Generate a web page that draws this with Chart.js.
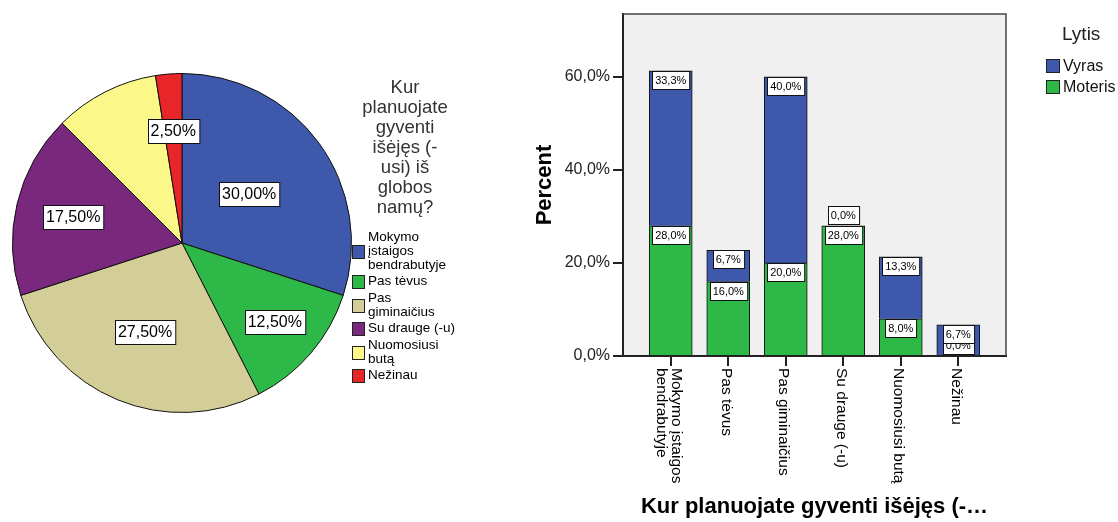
<!DOCTYPE html>
<html>
<head>
<meta charset="utf-8">
<script src="https://cdn.jsdelivr.net/npm/chart.js@4/dist/chart.umd.min.js"></script>
<style>
body { margin: 0; background: #fff; width: 1118px; height: 522px; overflow: hidden; }
#pie { position: absolute; left: 0; top: 0; }
#bar { position: absolute; left: 530px; top: 0; }
</style>
</head>
<body>
<canvas id="pie" width="530" height="522"></canvas>
<canvas id="bar" width="588" height="522"></canvas>
<script>
// --- pie: Kur planuojate gyventi ---
var pieLabels = ['Mokymo įstaigos bendrabutyje', 'Pas tėvus', 'Pas giminaičius', 'Su drauge (-u)', 'Nuomosiusi butą', 'Nežinau'];
var pieValues = [30.0, 12.5, 27.5, 17.5, 10.0, 2.5];
var pieColors = ['#3e58ac', '#2eb848', '#d3ce97', '#7a287e', '#fbf788', '#e8262a'];
var pieTitleLines = ['Kur', 'planuojate', 'gyventi', 'išėjęs (-', 'usi) iš', 'globos', 'namų?'];
var pieLegendLines = [['Mokymo', 'įstaigos', 'bendrabutyje'], ['Pas tėvus'], ['Pas', 'giminaičius'], ['Su drauge (-u)'], ['Nuomosiusi', 'butą'], ['Nežinau']];
var pieLabelRadius = [0.49, 0.72, 0.57, 0.66, null, 0.66]; // geltonas be etiketės

// --- stulpeliai: pagal lytį ---
var barCategories = ['Mokymo įstaigos bendrabutyje', 'Pas tėvus', 'Pas giminaičius', 'Su drauge (-u)', 'Nuomosiusi butą', 'Nežinau'];
var barTickLines = [['Mokymo įstaigos', 'bendrabutyje'], ['Pas tėvus'], ['Pas giminaičius'], ['Su drauge (-u)'], ['Nuomosiusi butą'], ['Nežinau']];
var moteris = [28.0, 16.0, 20.0, 28.0, 8.0, 0.0];
var vyras = [33.3, 6.7, 40.0, 0.0, 13.3, 6.7];
var yTicks = [0, 20, 40, 60];
var seriesNames = ['Vyras', 'Moteris'];

var FONT = "'Liberation Sans', Arial, sans-serif";
Chart.defaults.font.family = FONT;

function comma(v, d) {
    return v.toFixed(d).replace('.', ',') + '%';
}

function labelBox(ctx, text, cx, top, h, size) {
    ctx.font = size + 'px ' + FONT;
    var w = ctx.measureText(text).width + 6;
    var x = Math.round(cx - w / 2) + 0.5;
    var y = Math.round(top) + 0.5;
    ctx.fillStyle = '#fff';
    ctx.fillRect(x, y, w, h);
    ctx.strokeStyle = '#111';
    ctx.lineWidth = 1;
    ctx.strokeRect(x, y, w, h);
    ctx.fillStyle = '#000';
    ctx.textAlign = 'center';
    ctx.textBaseline = 'middle';
    ctx.fillText(text, cx, y + h / 2 + 0.5);
}

// pyrago etiketės ir legenda
var pieExtras = {
    id: 'pieExtras',
    afterDraw: function (chart) {
        var ctx = chart.ctx;
        var meta = chart.getDatasetMeta(0);
        ctx.save();
        meta.data.forEach(function (arc, i) {
            if (pieLabelRadius[i] === null) return;
            var mid = (arc.startAngle + arc.endAngle) / 2;
            var r = arc.outerRadius * pieLabelRadius[i];
            var x = arc.x + Math.cos(mid) * r;
            var y = arc.y + Math.sin(mid) * r;
            labelBox(ctx, comma(pieValues[i], 2), x, y - 12, 24, 16);
        });

        // pavadinimas
        ctx.fillStyle = '#333';
        ctx.font = '18.5px ' + FONT;
        ctx.textAlign = 'center';
        ctx.textBaseline = 'middle';
        pieTitleLines.forEach(function (t, k) {
            ctx.fillText(t, 405, 88 + k * 20);
        });

        // legendos punktai
        var y = 237;
        ctx.font = '13.5px ' + FONT;
        ctx.textAlign = 'left';
        pieLegendLines.forEach(function (lines, i) {
            var first = y;
            lines.forEach(function (t) {
                ctx.fillStyle = '#000';
                ctx.fillText(t, 368, y);
                y += 14;
            });
            var c = (first + y - 14) / 2;
            ctx.fillStyle = pieColors[i];
            ctx.fillRect(352.5, Math.round(c - 6.5) + 0.5, 12, 13);
            ctx.strokeStyle = '#222';
            ctx.lineWidth = 1;
            ctx.strokeRect(352.5, Math.round(c - 6.5) + 0.5, 12, 13);
            y += 2.5;
        });
        ctx.restore();
    }
};

new Chart(document.getElementById('pie'), {
    type: 'pie',
    data: {
        labels: pieLabels,
        datasets: [{
            data: pieValues,
            backgroundColor: pieColors,
            borderColor: '#111',
            borderWidth: 1,
            hoverOffset: 0
        }]
    },
    options: {
        responsive: false,
        animation: false,
        layout: { padding: { left: 12, top: 73, right: 178, bottom: 109 } },
        plugins: { legend: { display: false }, tooltip: { enabled: false } }
    },
    plugins: [pieExtras]
});

// stulpelių fonas, rėmas, etiketės
var barExtras = {
    id: 'barExtras',
    beforeDraw: function (chart) {
        var a = chart.chartArea, ctx = chart.ctx;
        ctx.save();
        ctx.fillStyle = '#f0f0f0';
        ctx.fillRect(a.left, a.top, a.right - a.left, a.bottom - a.top);
        ctx.restore();
    },
    beforeDatasetsDraw: function (chart) {
        var a = chart.chartArea, ctx = chart.ctx;
        ctx.save();
        ctx.strokeStyle = '#444';
        ctx.lineWidth = 1.5;
        ctx.beginPath();
        ctx.moveTo(a.left, a.top);
        ctx.lineTo(a.right, a.top);
        ctx.lineTo(a.right, a.bottom);
        ctx.stroke();
        ctx.restore();
    },
    afterDatasetsDraw: function (chart) {
        var ctx = chart.ctx;
        ctx.save();
        [0, 1].forEach(function (d) {
            var vals = d === 0 ? moteris : vyras;
            chart.getDatasetMeta(d).data.forEach(function (el, i) {
                var top = Math.min(el.y, el.base);
                var h = Math.abs(el.base - el.y);
                var boxTop = h < 1 ? top - 20 : top;
                labelBox(ctx, comma(vals[i], 1), el.x, boxTop, 18, 11);
            });
        });
        ctx.restore();
    },
    afterDraw: function (chart) {
        var ctx = chart.ctx;
        var xs = chart.scales.x;
        ctx.save();
        ctx.fillStyle = '#000';
        ctx.font = '15.5px ' + FONT;
        ctx.textAlign = 'left';
        ctx.textBaseline = 'middle';
        barTickLines.forEach(function (lines, i) {
            var x = xs.getPixelForValue(i) - 2;
            ctx.save();
            ctx.translate(x, 368);
            ctx.rotate(Math.PI / 2);
            lines.forEach(function (t, j) {
                ctx.fillText(t, 0, (j - (lines.length - 1) / 2) * 15);
            });
            ctx.restore();
        });

        // legenda "Lytis"
        ctx.fillStyle = '#222';
        ctx.font = '19px ' + FONT;
        ctx.textAlign = 'left';
        ctx.fillText('Lytis', 532, 35);
        var cols = ['#3e58ac', '#2eb848'];
        ctx.font = '16px ' + FONT;
        seriesNames.forEach(function (n, k) {
            var cy = 66 + k * 21;
            ctx.fillStyle = cols[k];
            ctx.fillRect(516.5, cy - 6.5, 13, 13);
            ctx.strokeStyle = '#222';
            ctx.lineWidth = 1;
            ctx.strokeRect(516.5, cy - 6.5, 13, 13);
            ctx.fillStyle = '#111';
            ctx.fillText(n, 533, cy + 1);
        });
        ctx.restore();
    }
};

new Chart(document.getElementById('bar'), {
    type: 'bar',
    data: {
        datasets: [{
            label: 'Moteris',
            data: moteris.map(function (v, i) { return { x: i, y: v }; }),
            backgroundColor: '#2eb848',
            borderColor: '#111',
            borderWidth: 1,
            barThickness: 43,
            stack: 's'
        }, {
            label: 'Vyras',
            data: vyras.map(function (v, i) { return { x: i, y: v }; }),
            backgroundColor: '#3e58ac',
            borderColor: '#111',
            borderWidth: 1,
            barThickness: 43,
            stack: 's'
        }]
    },
    options: {
        responsive: false,
        animation: false,
        layout: { padding: { left: 0, top: 14, right: 112, bottom: 0 } },
        plugins: { legend: { display: false }, tooltip: { enabled: false } },
        scales: {
            x: {
                type: 'linear',
                stacked: true,
                offset: false,
                min: -0.83,
                max: 5.83,
                afterBuildTicks: function (s) { s.ticks = barCategories.map(function (c, i) { return { value: i }; }); },
                afterFit: function (s) { s.height = 166; },
                ticks: { display: false },
                grid: { offset: false, drawOnChartArea: false, tickLength: 10, color: '#222', lineWidth: 2 },
                border: { display: true, color: '#222', width: 2 },
                title: {
                    display: true,
                    text: 'Kur planuojate gyventi išėjęs (-…',
                    color: '#000',
                    font: { size: 22, weight: 'bold', lineHeight: 1.36 },
                    padding: 0
                }
            },
            y: {
                stacked: true,
                min: 0,
                max: 73.5,
                afterBuildTicks: function (s) { s.ticks = yTicks.map(function (v) { return { value: v }; }); },
                afterFit: function (s) { s.width = 93; },
                ticks: {
                    callback: function (v) { return comma(v, 1); },
                    color: '#222',
                    font: { size: 16 },
                    padding: 3
                },
                grid: { drawOnChartArea: false, tickLength: 10, color: '#222', lineWidth: 2 },
                border: { display: true, color: '#222', width: 2 },
                title: {
                    display: true,
                    text: 'Percent',
                    color: '#000',
                    font: { size: 22, weight: 'bold', lineHeight: 1.4 },
                    padding: 0
                }
            }
        }
    },
    plugins: [barExtras]
});
</script>
</body>
</html>
